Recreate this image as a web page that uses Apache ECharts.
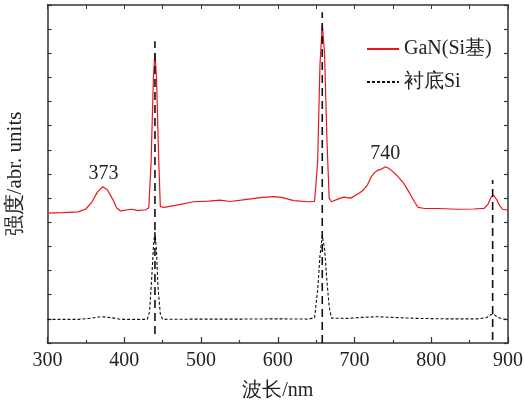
<!DOCTYPE html>
<html>
<head>
<meta charset="utf-8">
<script src="https://cdn.jsdelivr.net/npm/echarts@6/dist/echarts.min.js"></script>
<style>
    html, body { margin: 0; padding: 0; background: #fff; }
    #main { width: 524px; height: 405px; }
</style>
</head>
<body>
<div id="main"></div>
<script>
    // GaN(Si基) spectrum
    var ganWave = [300, 320, 340, 350, 358, 365, 372, 378, 385, 390, 395, 405, 410, 418, 428, 432, 435, 438, 440, 442, 445, 447, 452, 470, 490, 510, 525, 538, 560, 580, 595, 605, 621, 640, 648, 652, 655, 658, 661, 664, 667, 670, 680, 686, 695, 706, 712, 717, 722, 726, 730, 735, 740, 744, 748, 755, 764, 772, 778, 783, 790, 810, 834, 855, 869, 874, 878, 881, 885, 889, 893, 900];
    var ganValue = [5.38, 5.40, 5.43, 5.55, 5.85, 6.25, 6.47, 6.35, 5.95, 5.60, 5.47, 5.52, 5.54, 5.48, 5.52, 5.60, 7.5, 11.0, 12.0, 11.0, 7.5, 5.65, 5.62, 5.72, 5.85, 5.88, 5.92, 5.86, 5.95, 6.03, 6.06, 6.03, 5.90, 5.85, 5.87, 7.5, 11.5, 13.2, 12.0, 8.5, 6.0, 5.85, 5.98, 6.04, 6.00, 6.20, 6.35, 6.55, 6.90, 7.05, 7.15, 7.20, 7.30, 7.25, 7.15, 6.95, 6.62, 6.20, 5.85, 5.62, 5.58, 5.57, 5.54, 5.55, 5.58, 5.75, 6.05, 6.13, 5.95, 5.70, 5.54, 5.51];

    // 衬底Si spectrum
    var siWave = [300, 340, 355, 370, 385, 395, 430, 433, 436, 438, 440, 442, 444, 447, 450, 500, 550, 600, 640, 648, 652, 655, 658, 661, 664, 667, 670, 690, 710, 730, 750, 780, 820, 860, 872, 878, 881, 886, 892, 900];
    var siValue = [0.98, 0.98, 1.02, 1.09, 1.04, 0.98, 0.98, 1.3, 2.8, 4.0, 4.64, 3.8, 2.3, 1.2, 0.98, 0.99, 0.99, 1.0, 0.99, 1.05, 2.2, 3.6, 4.45, 3.9, 2.6, 1.5, 1.03, 1.02, 1.06, 1.09, 1.06, 1.02, 1.0, 1.0, 1.05, 1.18, 1.2, 1.08, 1.0, 0.98];

    // vertical guide lines
    var guideWave = [440, 658, 880];
    var guideLow = [0.37, 0, 0.12];
    var guideHigh = [12.5, 13.7, 6.75];

    // peak annotations
    var annoWave = [373, 740];
    var annoValue = [7.0, 7.85];
    var annoText = ['373', '740'];

    function pairs (xs, ys) {
        return xs.map(function (x, i) { return [x, ys[i]]; });
    }

    var font = 'Liberation Serif';
    var axisColor = '#333';
    var textColor = '#222';

    var chart = echarts.init(document.getElementById('main'));

    var series = [
        {
            name: 'GaN(Si基)',
            type: 'line',
            data: pairs(ganWave, ganValue),
            symbol: 'none',
            lineStyle: { color: '#e8171c', width: 1.2 },
            itemStyle: { color: '#e8171c' },
            z: 3
        },
        {
            name: '衬底Si',
            type: 'line',
            data: pairs(siWave, siValue),
            symbol: 'none',
            lineStyle: { color: '#111', width: 1.1, type: [3, 2] },
            itemStyle: { color: '#111' },
            z: 3
        }
    ];

    guideWave.forEach(function (w, i) {
        series.push({
            name: 'guide' + i,
            type: 'line',
            data: [[w, guideLow[i]], [w, guideHigh[i]]],
            symbol: 'none',
            silent: true,
            lineStyle: { color: '#111', width: 1.6, type: [8, 5] },
            z: 4
        });
    });

    series.push({
        name: 'anno',
        type: 'scatter',
        data: pairs(annoWave, annoValue).map(function (p, i) {
            return { value: p, label: { formatter: annoText[i] } };
        }),
        symbolSize: 0,
        silent: true,
        itemStyle: { opacity: 1, color: textColor },
        label: {
            show: true,
            position: 'inside',
            color: textColor,
            textBorderWidth: 0,
            fontFamily: font,
            fontSize: 20
        }
    });

    var option = {
        animation: false,
        backgroundColor: '#fff',
        grid: { left: 47.5, right: 16, top: 5, bottom: 62, outerBoundsMode: 'none', containLabel: false },
        legend: {
            data: ['GaN(Si基)', '衬底Si'],
            orient: 'vertical',
            left: 361,
            top: 34,
            itemWidth: 32,
            itemHeight: 12,
            itemGap: 13,
            itemStyle: { opacity: 0 },
            textStyle: { color: textColor, fontFamily: font, fontSize: 20, lineHeight: 20 }
        },
        xAxis: [
            {
                type: 'value',
                min: 300,
                max: 900,
                interval: 100,
                name: '波长/nm',
                nameLocation: 'middle',
                nameGap: 38,
                nameTextStyle: { color: textColor, fontFamily: font, fontSize: 20 },
                axisLine: { onZero: false, lineStyle: { color: axisColor, width: 1.5 } },
                axisTick: { inside: true, length: 6, lineStyle: { color: axisColor, width: 1.2 } },
                minorTick: { show: true, splitNumber: 2, length: 3, lineStyle: { color: axisColor, width: 1.2 } },
                axisLabel: { color: textColor, fontFamily: font, fontSize: 20, margin: 8 },
                splitLine: { show: false }
            },
            {
                type: 'value',
                position: 'top',
                min: 300,
                max: 900,
                interval: 100,
                axisLine: { onZero: false, lineStyle: { color: axisColor, width: 1.5 } },
                axisTick: { inside: true, length: 4, lineStyle: { color: axisColor, width: 1 } },
                minorTick: { show: true, splitNumber: 2, length: 4, lineStyle: { color: axisColor, width: 1 } },
                axisLabel: { show: false },
                splitLine: { show: false }
            }
        ],
        yAxis: [
            {
                type: 'value',
                min: 0,
                max: 14,
                interval: 1,
                name: '强度/abr. units',
                nameLocation: 'middle',
                nameGap: 22,
                nameTextStyle: { color: textColor, fontFamily: font, fontSize: 21 },
                axisLine: { show: true, onZero: false, lineStyle: { color: axisColor, width: 1.5 } },
                axisTick: { show: true, inside: true, length: 4, lineStyle: { color: axisColor, width: 1.2 } },
                axisLabel: { show: false },
                splitLine: { show: false }
            },
            {
                type: 'value',
                position: 'right',
                min: 0,
                max: 14,
                interval: 1,
                axisLine: { show: true, onZero: false, lineStyle: { color: axisColor, width: 1.5 } },
                axisTick: { show: true, inside: true, length: 4, lineStyle: { color: axisColor, width: 1.2 } },
                axisLabel: { show: false },
                splitLine: { show: false }
            }
        ],
        series: series
    };

    chart.setOption(option);
</script>
</body>
</html>
